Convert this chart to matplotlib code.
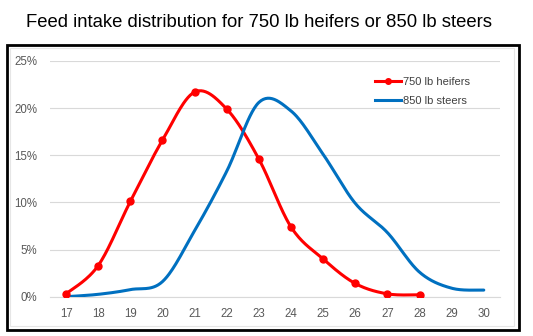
import numpy as np
import matplotlib
matplotlib.use("Agg")
import matplotlib.pyplot as plt
from matplotlib.patches import Rectangle
from matplotlib.ticker import FuncFormatter

plt.rcParams['font.family'] = ['Liberation Sans', 'DejaVu Sans']

# feed intake (lb) and share of animals
heifer_x = [17, 18, 19, 20, 21, 22, 23, 24, 25, 26, 27, 28]
heifer_pct = [0.3, 3.3, 10.1, 16.6, 21.7, 19.9, 14.6, 7.4, 4.0, 1.4, 0.3, 0.2]
steer_x = [17, 18, 19, 20, 21, 22, 23, 24, 25, 26, 27, 28, 29, 30]
steer_pct = [0.0, 0.25, 0.75, 1.6, 7.0, 13.3, 20.6, 19.7, 15.1, 9.9, 6.8, 2.6, 0.9, 0.7]
xticks = list(range(17, 31))
yticks = [0, 5, 10, 15, 20, 25]


def smooth(x, y, n=30):
    # excel-like smoothed line: bezier segments through every point
    x = np.asarray(x, float)
    y = np.asarray(y, float)
    px = np.concatenate([[x[0]], x, [x[-1]]])
    py = np.concatenate([[y[0]], y, [y[-1]]])
    t = np.linspace(0, 1, n)[:, None]
    xs, ys = [], []
    for i in range(len(x) - 1):
        p0 = np.array([px[i], py[i]])
        p1 = np.array([px[i + 1], py[i + 1]])
        p2 = np.array([px[i + 2], py[i + 2]])
        p3 = np.array([px[i + 3], py[i + 3]])
        c1 = p1 + (p2 - p0) / 6
        c2 = p2 - (p3 - p1) / 6
        pts = ((1 - t) ** 3) * p1 + 3 * ((1 - t) ** 2) * t * c1 + 3 * (1 - t) * t ** 2 * c2 + t ** 3 * p2
        xs.extend(pts[:, 0])
        ys.extend(pts[:, 1])
    return xs, ys


fig = plt.figure(figsize=(5.33, 3.36), dpi=100)
ax = fig.add_axes([0.0938, 0.117, 0.844, 0.7016])

red = "#FF0000"
blue = "#0070C0"

sx, sy = smooth(heifer_x, heifer_pct)
ax.plot(sx, sy, color=red, lw=2.2, solid_capstyle="round", zorder=3)
ax.plot(heifer_x, heifer_pct, "o", color=red, ms=5, zorder=4)
bx, by = smooth(steer_x, steer_pct)
ax.plot(bx, by, color=blue, lw=2.2, solid_capstyle="round", zorder=3)

# legend proxies
ax.plot([], [], color=red, lw=2.2, marker="o", ms=4, label="750 lb heifers")
ax.plot([], [], color=blue, lw=2.2, label="850 lb steers")
leg = ax.legend(loc="upper right", bbox_to_anchor=(0.955, 0.975), frameon=False,
                fontsize=8, handlelength=2.4, handletextpad=0.1, labelspacing=0.85,
                labelcolor="#404040")

ax.set_xlim(16.5, 30.5)
ax.set_ylim(0, 25)
ax.set_xticks(xticks)
ax.set_yticks(yticks)
ax.yaxis.set_major_formatter(FuncFormatter(lambda v, p: f"{v:.0f}%"))
ax.tick_params(length=0, labelsize=8.3, labelcolor="#595959")
ax.tick_params(axis="x", pad=8)
ax.tick_params(axis="y", pad=9)
ax.grid(axis="y", color="#D9D9D9", lw=0.8)
ax.set_axisbelow(True)
for s in ["top", "right", "left"]:
    ax.spines[s].set_visible(False)
ax.spines["bottom"].set_color("#D9D9D9")
ax.spines["bottom"].set_linewidth(0.8)

fig.text(0.485, 0.932, "Feed intake distribution for 750 lb heifers or 850 lb steers",
         ha="center", va="center", fontsize=13.3, color="black")

# chart area frames
fig.patches.append(Rectangle((10 / 533, 1 - 326 / 336), 504 / 533, 278 / 336,
                             transform=fig.transFigure, fill=False, ec="#E6E6E6", lw=0.8))
fig.patches.append(Rectangle((7 / 533, 1 - 330 / 336), 512 / 533, 285 / 336,
                             transform=fig.transFigure, fill=False, ec="black", lw=2))

plt.savefig("out.png", dpi=100)
